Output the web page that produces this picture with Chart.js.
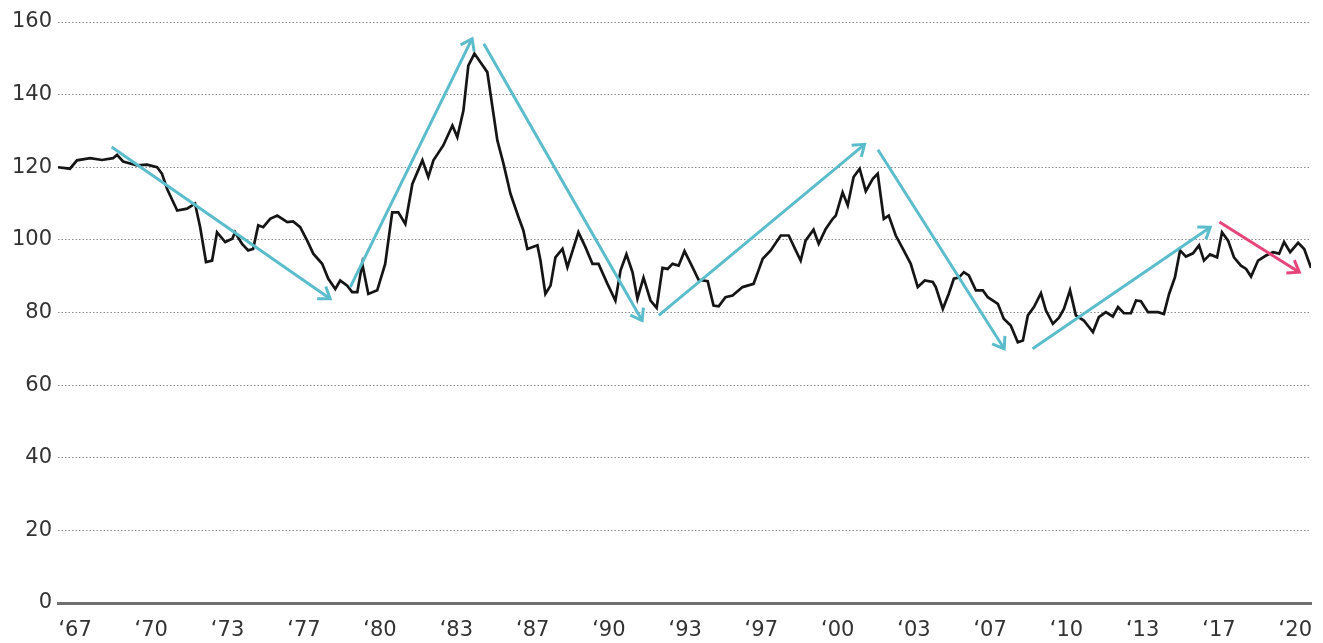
<!DOCTYPE html>
<html>
<head>
<meta charset="utf-8">
<script src="https://cdn.jsdelivr.net/npm/chart.js@4"></script>
<style>
  html, body { margin: 0; padding: 0; background: #ffffff; overflow: hidden; }
  #wrap { width: 1323px; height: 643px; position: relative; }
  #c { display: block; }
</style>
</head>
<body>
<div id="wrap"><canvas id="c"></canvas></div>
<script>
// ---- data (decimal year, index value) ----
const years = [
  1967.00,1967.51,1967.81,1968.37,1968.88,1969.35,1969.52,1969.78,1970.38,1970.80,
  1971.23,1971.44,1971.66,1972.09,1972.51,1972.85,1973.07,1973.32,1973.58,1973.79,
  1974.14,1974.44,1974.56,1974.86,1975.12,1975.33,1975.55,1975.76,1976.06,1976.36,
  1976.79,1977.04,1977.34,1977.64,1977.90,1978.28,1978.54,1978.84,1979.05,1979.35,
  1979.56,1979.78,1979.99,1980.25,1980.63,1980.97,1981.27,1981.53,1981.83,1982.13,
  1982.56,1982.81,1983.03,1983.45,1983.84,1984.05,1984.31,1984.52,1984.78,1985.03,
  1985.33,1985.55,1985.76,1986.02,1986.32,1986.66,1986.87,1987.04,1987.47,1987.60,
  1987.81,1988.03,1988.24,1988.54,1988.75,1989.22,1989.52,1989.82,1990.08,1990.46,
  1990.80,1991.02,1991.27,1991.53,1991.74,1992.00,1992.30,1992.56,1992.81,1993.03,
  1993.24,1993.50,1993.75,1994.09,1994.35,1994.74,1994.99,1995.21,1995.50,1995.80,
  1996.23,1996.70,1996.91,1997.09,1997.43,1997.86,1998.20,1998.50,1998.71,1998.92,
  1999.26,1999.48,1999.78,2000.08,2000.21,2000.50,2000.72,2000.97,2001.23,2001.49,
  2001.79,2002.00,2002.26,2002.47,2002.77,2003.11,2003.41,2003.71,2004.01,2004.35,
  2004.48,2004.78,2005.03,2005.25,2005.46,2005.68,2005.89,2006.19,2006.49,2006.70,
  2007.13,2007.38,2007.68,2007.98,2008.20,2008.41,2008.67,2008.97,2009.18,2009.48,
  2009.74,2009.95,2010.21,2010.46,2010.80,2011.19,2011.44,2011.74,2012.04,2012.26,
  2012.51,2012.81,2013.03,2013.24,2013.54,2013.97,2014.22,2014.44,2014.69,2014.91,
  2015.16,2015.46,2015.72,2015.93,2016.19,2016.49,2016.70,2016.96,2017.21,2017.51,
  2017.73,2017.94,2018.24,2018.58,2018.88,2019.14,2019.35,2019.61,2019.95,2020.21,
  2020.50
];
const values = [
  120.0,119.6,121.9,122.5,122.0,122.5,123.4,121.6,120.5,120.7,
  120.0,118.2,114.0,108.1,108.6,110.0,103.5,93.9,94.3,102.1,
  99.4,100.3,102.1,98.9,97.1,97.5,104.0,103.5,105.8,106.7,
  104.9,105.1,103.5,99.8,96.2,93.4,89.3,86.5,88.8,87.4,
  85.6,85.6,93.4,85.1,86.1,93.4,107.6,107.6,104.4,115.4,
  121.9,117.3,121.9,126.0,131.5,128.3,135.6,148.0,151.3,149.0,
  146.2,136.6,127.4,121.0,112.7,106.3,102.6,97.5,98.5,94.3,
  85.1,87.4,95.2,97.5,92.5,102.1,98.0,93.4,93.4,87.9,
  83.3,91.6,96.0,91.1,83.8,89.6,83.3,81.3,92.3,92.0,
  93.4,92.9,96.9,92.5,89.0,88.6,81.9,81.7,84.2,84.7,
  87.0,87.9,91.6,94.8,97.1,101.2,101.2,97.1,94.3,99.8,
  102.8,98.9,103.0,105.8,106.7,113.1,109.5,117.3,119.6,113.4,
  116.8,118.2,105.8,106.7,101.2,97.1,93.4,87.0,88.8,88.4,
  87.0,81.0,85.1,89.3,89.6,91.1,90.2,86.1,86.1,84.2,
  82.4,78.3,76.4,71.8,72.3,79.2,81.5,85.3,80.6,76.9,
  78.6,81.0,86.1,79.2,77.8,74.6,78.7,80.1,78.9,81.5,
  79.8,79.8,83.3,83.1,80.1,80.1,79.6,85.1,89.7,97.1,
  95.4,96.3,98.5,94.3,96.0,95.2,102.1,99.8,95.2,92.9,
  92.0,89.9,94.3,95.7,96.6,96.2,99.4,96.6,99.2,97.5,
  92.3
];

// x-axis tick labels and their positions (decimal years)
const tickLabels = ["\u201867","\u201870","\u201873","\u201877","\u201880","\u201883","\u201887","\u201890","\u201893",
                    "\u201897","\u201800","\u201803","\u201807","\u201810","\u201813","\u201817","\u201820"];
const tickYears = [1967.73,1970.98,1974.24,1977.50,1980.75,1984.01,1987.27,1990.52,1993.78,
                   1997.03,2000.29,2003.55,2006.80,2010.06,2013.31,2016.57,2019.83];

// trend arrows: [startYear, startValue, endYear, endValue]
const arrowsCyan = [
  [1969.29,125.6,1978.62,83.8],
  [1979.48,87.0,1984.68,155.4],
  [1985.18,154.0,1991.94,77.8],
  [1992.65,79.2,2001.44,126.3],
  [2002.01,124.8,2007.40,70.0],
  [2008.61,70.0,2016.20,103.5]
];
const arrowsRed = [
  [2016.59,104.9,2020.00,91.1]
];

const CYAN = '#5bbdcb';
const RED = '#e6457a';

const lineData = years.map((y, i) => ({x: y, y: values[i]}));

const arrowDatasets = [];
arrowsCyan.forEach(a => arrowDatasets.push({ data: [{x:a[0],y:a[1]},{x:a[2],y:a[3]}], color: CYAN }));
arrowsRed.forEach(a => arrowDatasets.push({ data: [{x:a[0],y:a[1]},{x:a[2],y:a[3]}], color: RED }));

const datasets = [
  {
    label: 'index',
    data: lineData,
    borderColor: '#151515',
    borderWidth: 2.7,
    pointRadius: 0,
    tension: 0,
    order: 2
  }
].concat(arrowDatasets.map(a => ({
  label: 'arrow',
  data: a.data,
  borderColor: a.color,
  borderWidth: 3,
  pointRadius: 0,
  tension: 0,
  isArrow: true,
  order: 1
})));

const arrowHeads = {
  id: 'arrowHeads',
  afterDatasetsDraw(chart) {
    const ctx = chart.ctx;
    chart.data.datasets.forEach((ds, i) => {
      if (!ds.isArrow) return;
      const meta = chart.getDatasetMeta(i);
      const p0 = meta.data[0], p1 = meta.data[1];
      const ang = Math.atan2(p1.y - p0.y, p1.x - p0.x);
      const len = 13, spread = 0.62;
      ctx.save();
      ctx.strokeStyle = ds.borderColor;
      ctx.lineWidth = 3;
      ctx.lineCap = 'butt';
      ctx.lineJoin = 'miter';
      ctx.beginPath();
      ctx.moveTo(p1.x - len * Math.cos(ang - spread), p1.y - len * Math.sin(ang - spread));
      ctx.lineTo(p1.x, p1.y);
      ctx.lineTo(p1.x - len * Math.cos(ang + spread), p1.y - len * Math.sin(ang + spread));
      ctx.stroke();
      ctx.restore();
    });
  }
};

const FONT = { family: "'DejaVu Sans', sans-serif", size: 21 };

new Chart(document.getElementById('c'), {
  type: 'line',
  data: { datasets },
  options: {
    responsive: true,
    maintainAspectRatio: false,
    animation: false,
    events: [],
    layout: { padding: { top: 22, right: 12, left: 0, bottom: 0 } },
    plugins: { legend: { display: false }, tooltip: { enabled: false } },
    scales: {
      x: {
        type: 'linear',
        min: 1967.0,
        max: 2020.5,
        afterBuildTicks(scale) {
          scale.ticks = tickYears.map(v => ({ value: v }));
        },
        afterFit(scale) {
          scale.height = 40;
          scale.paddingLeft = 0;
          scale.paddingRight = 0;
        },
        ticks: {
          autoSkip: false,
          maxRotation: 0,
          minRotation: 0,
          padding: 15,
          color: '#333333',
          font: FONT,
          callback: (v, i) => tickLabels[i]
        },
        grid: { display: false, drawTicks: false },
        border: { display: true, color: '#707070', width: 3 }
      },
      y: {
        min: 0,
        max: 160,
        afterFit(scale) { scale.width = 58; },
        ticks: {
          stepSize: 20,
          padding: 6,
          color: '#333333',
          font: FONT
        },
        grid: {
          drawTicks: false,
          lineWidth: 1,
          color: (c) => (c.tick && c.tick.value === 0) ? 'rgba(0,0,0,0)' : '#8a8a8a'
        },
        border: { display: false, dash: [1.5, 2] }
      }
    }
  },
  plugins: [arrowHeads]
});
</script>
</body>
</html>
